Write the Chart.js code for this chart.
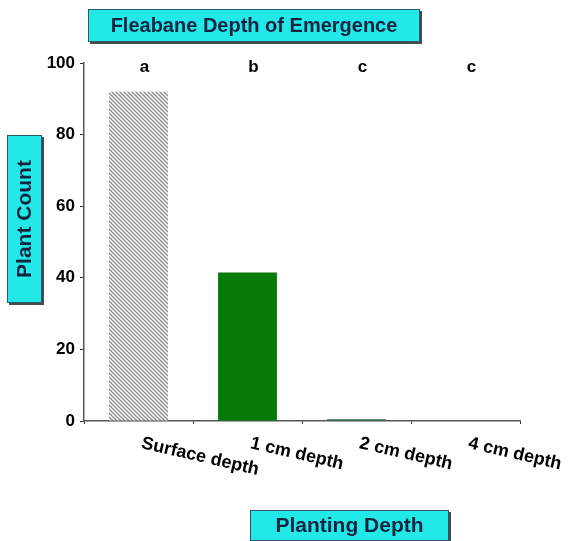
<!DOCTYPE html>
<html>
<head>
<meta charset="utf-8">
<script src="https://cdn.jsdelivr.net/npm/chart.js@4"></script>
<style>
  html, body { margin: 0; padding: 0; background: #fff; }
  #wrap { width: 571px; height: 541px; position: relative; }
</style>
</head>
<body>
<div id="wrap"><canvas id="chart" width="571" height="541"></canvas></div>
<script>
const categories = ["Surface depth", "1 cm depth", "2 cm depth", "4 cm depth"];
const plantCount = [92, 41.5, 0.5, 0];
const letters = ["a", "b", "c", "c"];
const yTicks = [0, 20, 40, 60, 80, 100];

const chartTitle = "Fleabane Depth of Emergence";
const yTitle = "Plant Count";
const xTitle = "Planting Depth";

const FONT = "Liberation Sans, Arial, sans-serif";

// hatch pattern for the surface bar
function makeHatch() {
  const c = document.createElement("canvas");
  c.width = 4; c.height = 4;
  const g = c.getContext("2d");
  g.fillStyle = "#fff";
  g.fillRect(0, 0, 4, 4);
  g.strokeStyle = "#8a8a8a";
  g.lineWidth = 1.3;
  g.beginPath();
  g.moveTo(-1, -1); g.lineTo(5, 5);
  g.moveTo(-1, 3); g.lineTo(1, 5);
  g.moveTo(3, -1); g.lineTo(5, 1);
  g.stroke();
  return g.createPattern(c, "repeat");
}

function labelBox(ctx, text, x, y, w, h, size, vertical) {
  ctx.save();
  ctx.fillStyle = "#4a4a4a";
  ctx.fillRect(x + 2, y + 2, w, h);
  ctx.fillStyle = "#22e8e8";
  ctx.fillRect(x, y, w, h);
  ctx.strokeStyle = "#2a5a6a";
  ctx.lineWidth = 1;
  ctx.strokeRect(x + 0.5, y + 0.5, w - 1, h - 1);
  ctx.fillStyle = "#14233f";
  ctx.font = "bold " + size + "px " + FONT;
  ctx.textAlign = "center";
  ctx.textBaseline = "middle";
  if (vertical) {
    ctx.translate(x + w / 2, y + h / 2);
    ctx.rotate(-Math.PI / 2);
    ctx.fillText(text, 0, 1);
  } else {
    ctx.fillText(text, x + w / 2, y + h / 2 + 1);
  }
  ctx.restore();
}

const extras = {
  id: "extras",
  afterDraw(chart) {
    const ctx = chart.ctx;
    const xs = chart.scales.x;
    const area = chart.chartArea;

    // significance letters
    ctx.save();
    ctx.fillStyle = "#000";
    ctx.font = "bold 17px " + FONT;
    ctx.textAlign = "center";
    ctx.textBaseline = "middle";
    letters.forEach((l, i) => {
      ctx.fillText(l, xs.getPixelForValue(i) + 6, area.top + 4);
    });
    ctx.restore();

    // category labels slanting down to the right
    ctx.save();
    ctx.fillStyle = "#000";
    ctx.font = "bold 18px " + FONT;
    ctx.textAlign = "left";
    ctx.textBaseline = "alphabetic";
    categories.forEach((c, i) => {
      ctx.save();
      ctx.translate(xs.getPixelForValue(i) + 2, area.bottom + 27);
      ctx.rotate(13 * Math.PI / 180);
      ctx.fillText(c, 0, 0);
      ctx.restore();
    });
    ctx.restore();

    labelBox(ctx, chartTitle, 88, 9, 332, 33, 20, false);
    labelBox(ctx, yTitle, 7, 135, 35, 168, 21, true);
    labelBox(ctx, xTitle, 250, 510, 199, 31, 21, false);
  }
};

const ctx = document.getElementById("chart").getContext("2d");
new Chart(ctx, {
  type: "bar",
  data: {
    labels: categories,
    datasets: [{
      data: plantCount,
      backgroundColor: [makeHatch(), "#087a08", "#2a6a4a", "#087a08"],
      borderWidth: 0,
      barPercentage: 0.54,
      categoryPercentage: 1
    }]
  },
  options: {
    responsive: false,
    animation: false,
    devicePixelRatio: 1,
    layout: { padding: { left: 0, top: 63, right: 51, bottom: 0 } },
    plugins: {
      legend: { display: false },
      tooltip: { enabled: false }
    },
    scales: {
      x: {
        grid: { display: true, drawOnChartArea: false, tickLength: 3, color: "#333", offset: true },
        border: { color: "#555", width: 1.5 },
        ticks: { display: false },
        afterFit(scale) { scale.height = 120; }
      },
      y: {
        min: 0,
        max: 100,
        afterBuildTicks(scale) { scale.ticks = yTicks.map(v => ({ value: v })); },
        grid: { display: true, drawOnChartArea: false, tickLength: 4, color: "#333" },
        border: { color: "#555", width: 1.5 },
        ticks: {
          color: "#000",
          padding: 5,
          font: { family: FONT, size: 17, weight: "bold" }
        },
        afterFit(scale) { scale.width = 84; }
      }
    }
  },
  plugins: [extras]
});
</script>
</body>
</html>
